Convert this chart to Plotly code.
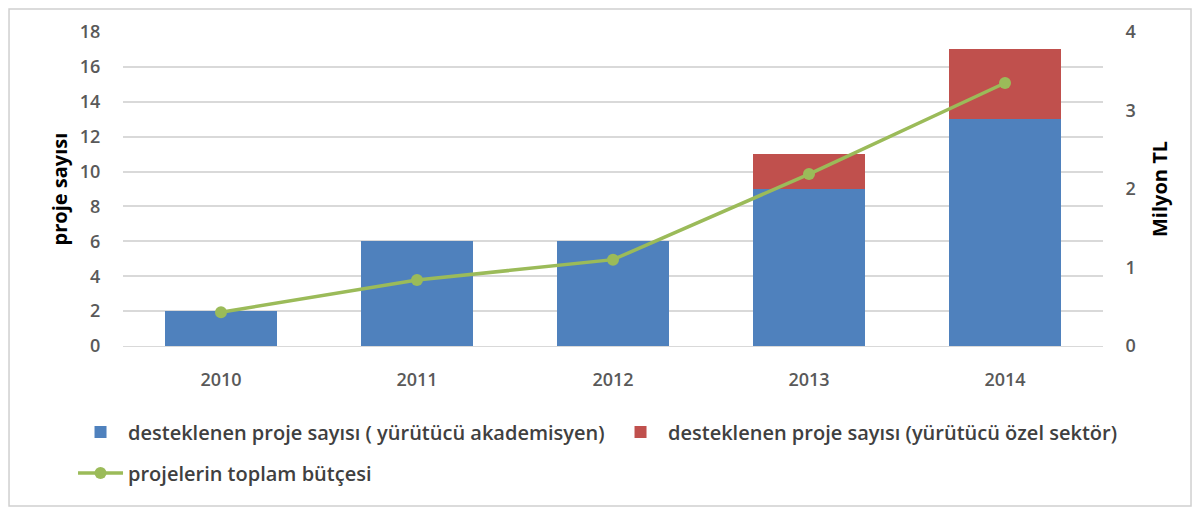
import plotly.graph_objects as go

years = ["2010", "2011", "2012", "2013", "2014"]
akademisyen = [2, 6, 6, 9, 13]
ozel_sektor = [0, 0, 0, 2, 4]
butce = [0.43, 0.84, 1.10, 2.19, 3.35]

BLUE = "#4F81BD"
RED = "#C0504D"
GREEN = "#9BBB59"
TICK = "#595959"
FONT = dict(family="Open Sans, sans-serif", color=TICK, size=18, weight=600)
LEGEND_FONT = dict(family="Open Sans, sans-serif", color="#404040", size=20, weight=600)
TITLE_FONT = dict(family="Open Sans, sans-serif", color="black", size=20, weight=700)

fig = go.Figure()
fig.add_trace(go.Bar(
    x=years, y=akademisyen, name="desteklenen proje sayısı ( yürütücü akademisyen)",
    marker=dict(color=BLUE, line=dict(width=0)),
))
fig.add_trace(go.Bar(
    x=years, y=ozel_sektor, name="desteklenen proje sayısı (yürütücü özel sektör)",
    marker=dict(color=RED, line=dict(width=0)),
))
fig.add_trace(go.Scatter(
    x=years, y=butce, name="projelerin toplam bütçesi", yaxis="y2", legend="legend2",
    mode="lines+markers", line=dict(color=GREEN, width=3.5),
    marker=dict(color=GREEN, size=12),
))

# page body has an 8px margin, so the figure is sized 8px smaller than the window
fig.update_layout(
    width=1195, height=503,
    margin=dict(l=115, r=100, t=24, b=165),
    barmode="stack", bargap=0.43,
    paper_bgcolor="white", plot_bgcolor="white",
    font=FONT,
    xaxis=dict(showgrid=False, ticks="outside", ticklen=17, tickcolor="rgba(0,0,0,0)",
               showline=True, linecolor="#D9D9D9", linewidth=1),
    yaxis=dict(range=[0, 18], dtick=2, gridcolor="#D9D9D9", gridwidth=1.5, zeroline=False,
               ticks="outside", ticklen=18, tickcolor="rgba(0,0,0,0)",
               title=dict(text="proje sayısı", font=TITLE_FONT, standoff=6)),
    yaxis2=dict(range=[0, 4], dtick=1, overlaying="y", side="right", showgrid=False,
                zeroline=False, ticks="outside", ticklen=18, tickcolor="rgba(0,0,0,0)",
                title=dict(text="Milyon TL", font=TITLE_FONT, standoff=18)),
    legend=dict(orientation="h", x=-0.051, xanchor="left", y=-0.212, yanchor="top",
                font=LEGEND_FONT, entrywidth=480, entrywidthmode="pixels",
                itemwidth=45, traceorder="normal"),
    legend2=dict(orientation="h", x=-0.051, xanchor="left", y=-0.342, yanchor="top",
                 font=LEGEND_FONT, itemwidth=45),
    showlegend=True,
)

fig.add_shape(type="rect", xref="paper", yref="paper",
              x0=-0.1163, x1=1.0898, y0=-0.5096, y1=1.0732,
              line=dict(color="#D0D0D0", width=1.5), layer="above")

fig.write_html("out.html")
